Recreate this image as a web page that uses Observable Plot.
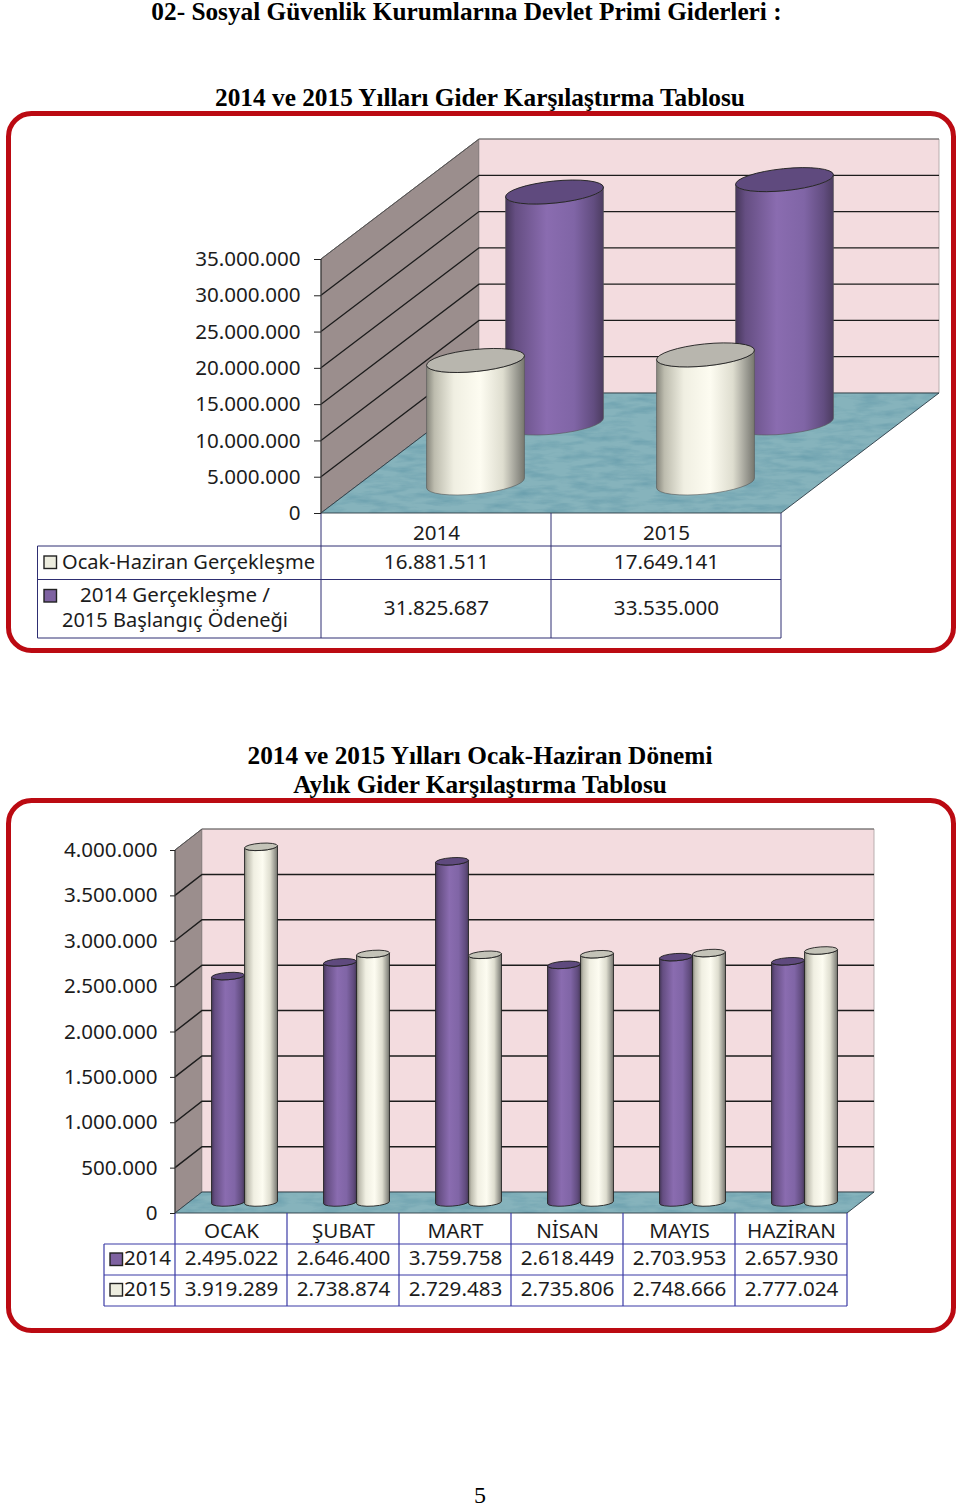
<!DOCTYPE html>
<html lang="tr">
<head>
<meta charset="utf-8">
<script src="https://cdn.jsdelivr.net/npm/d3@7"></script>
<script src="https://cdn.jsdelivr.net/npm/@observablehq/plot@0.6"></script>
<style>
html,body{margin:0;padding:0;background:#fff;width:960px;height:1507px;overflow:hidden}
.t{position:absolute;left:0;width:960px;text-align:center;font-family:"Liberation Serif",serif;font-weight:bold;color:#000;white-space:nowrap;font-size:25.3px;line-height:28px}
.c{position:absolute;left:0}
.c svg{display:block;overflow:visible}
</style>
</head>
<body>
<div class="t" style="top:-3px;padding-right:27px;box-sizing:border-box">02- Sosyal Güvenlik Kurumlarına Devlet Primi Giderleri :</div>
<div class="t" style="top:83px">2014 ve 2015 Yılları Gider Karşılaştırma Tablosu</div>
<div id="c1" class="c" style="top:105px"></div>
<div class="t" style="top:741px">2014 ve 2015 Yılları Ocak-Haziran Dönemi</div>
<div class="t" style="top:770px">Aylık Gider Karşılaştırma Tablosu</div>
<div id="c2" class="c" style="top:793px"></div>
<div class="t" style="top:1481px;font-size:24px;font-weight:normal">5</div>
<script>
// ---- data ----
const years = ["2014", "2015"];
const halfYearActual = [16881511, 17649141];
const annualBudget = [31825687, 33535000];
const annualTicks = [0, 5e6, 10e6, 15e6, 20e6, 25e6, 30e6, 35e6];

const months = ["OCAK", "ŞUBAT", "MART", "NİSAN", "MAYIS", "HAZİRAN"];
const monthly2014 = [2495022, 2646400, 3759758, 2618449, 2703953, 2657930];
const monthly2015 = [3919289, 2738874, 2729483, 2735806, 2748666, 2777024];
const monthlyTicks = [0, 5e5, 1e6, 1.5e6, 2e6, 2.5e6, 3e6, 3.5e6, 4e6];

// ---- styling ----
const FONT = '"Noto Sans", "DejaVu Sans", sans-serif';
const TEXT = "#1c1c1c";
const fmt = d3.formatLocale({decimal: ",", thousands: ".", grouping: [3], currency: ["", ""]}).format(",d");
const SVGNS = "http://www.w3.org/2000/svg";

function el(parent, name, attrs, text) {
  const n = document.createElementNS(SVGNS, name);
  for (const k in attrs) n.setAttribute(k, attrs[k]);
  if (text != null) n.textContent = text;
  if (parent) parent.appendChild(n);
  return n;
}

function defs(g) {
  const d = el(g, "defs", {});
  const grad = (id, stops) => {
    const lg = el(d, "linearGradient", {id, x1: 0, x2: 1, y1: 0, y2: 0});
    for (const [o, c] of stops) el(lg, "stop", {offset: o, "stop-color": c});
  };
  grad("gPurple", [[0, "#46375a"], [.1, "#654e82"], [.42, "#8a6cb0"], [.7, "#8065a6"], [.9, "#624d80"], [1, "#4c3c60"]]);
  grad("gCream", [[0, "#85857b"], [.08, "#bdbcae"], [.28, "#f0efe2"], [.55, "#fdfcf1"], [.78, "#deddcf"], [.94, "#92928a"], [1, "#77776d"]]);
  const f = el(d, "filter", {id: "water", x: 0, y: 0, width: 1, height: 1, "color-interpolation-filters": "sRGB"});
  el(f, "feTurbulence", {type: "fractalNoise", baseFrequency: ".035 .16", numOctaves: 3, seed: 4, result: "n"});
  el(f, "feColorMatrix", {in: "n", type: "matrix", values: "0 0 0 0 .40  0 0 0 0 .61  0 0 0 0 .67  1.6 0 0 0 -.62", result: "m"});
  el(f, "feComposite", {in: "m", in2: "SourceGraphic", operator: "in", result: "c"});
  const mg = el(f, "feMerge", {});
  el(mg, "feMergeNode", {in: "SourceGraphic"});
  el(mg, "feMergeNode", {in: "c"});
}

// Walls, floor and gridlines of the 3-D box, placed by the x and y scales
function box(cfg) {
  return (index, {x, y}) => {
    const g = el(null, "g", {});
    defs(g);
    const dom = x.domain();
    const xL = x(dom[0]), xR = x(dom[dom.length - 1]) + x.bandwidth();
    const [dx, dy] = cfg.depth;
    const y0 = y(0), yT = y(cfg.ticks[cfg.ticks.length - 1]);
    const poly = (pts, attrs) => el(g, "polygon", {points: pts.map(p => p.join(",")).join(" "), ...attrs});
    poly([[xL, y0], [xL + dx, y0 + dy], [xL + dx, yT + dy], [xL, yT]], {fill: "#9b8e8d", stroke: "#4a4444", "stroke-width": .8});
    poly([[xL + dx, y0 + dy], [xR + dx, y0 + dy], [xR + dx, yT + dy], [xL + dx, yT + dy]], {fill: "#f3dcdf", stroke: "#a8a0a0", "stroke-width": .8});
    poly([[xL, y0], [xR, y0], [xR + dx, y0 + dy], [xL + dx, y0 + dy]], {fill: "#86b3bc", filter: "url(#water)"});
    poly([[xL, y0], [xR, y0], [xR + dx, y0 + dy], [xL + dx, y0 + dy]], {fill: "none", stroke: "#2b3a44", "stroke-width": .9});
    for (const t of cfg.ticks.slice(1)) {
      const yy = y(t);
      const isTop = t === cfg.ticks[cfg.ticks.length - 1];
      el(g, "polyline", {
        points: `${xL},${yy} ${xL + dx},${yy + dy} ${xR + dx},${yy + dy}`,
        fill: "none", stroke: isTop ? "#555" : "#1c1c1c", "stroke-width": isTop ? .9 : cfg.gridWidth
      });
    }
    el(g, "line", {x1: xL, x2: xL, y1: yT, y2: y0, stroke: "#3a3a3a", "stroke-width": 1});
    return g;
  };
}

// Cylinders: base and height come from the scales
function cylinders(cfg, series) {
  return (index, {x, y}) => {
    const g = el(null, "g", {});
    const [dx, dy] = cfg.depth;
    const bw = x.bandwidth();
    const rx = bw * cfg.radius, ry = cfg.ry, a = cfg.tilt * Math.PI / 180;
    const cx0 = rx * Math.cos(a), sy0 = rx * Math.sin(a);
    for (const s of series) {
      x.domain().forEach((c, i) => {
        const cx = x(c) + bw / 2 + dx * s.depth + bw * s.shift;
        const yb = y(0) + dy * s.depth, yt = y(s.values[i]) + dy * s.depth;
        const d = `M${cx - cx0},${yt + sy0} L${cx - cx0},${yb + sy0} A${rx},${ry} ${-cfg.tilt} 0 0 ${cx + cx0},${yb - sy0} L${cx + cx0},${yt - sy0} A${rx},${ry} ${-cfg.tilt} 0 1 ${cx - cx0},${yt + sy0} Z`;
        el(g, "path", {d, fill: `url(#${s.grad})`, stroke: cfg.outline, "stroke-width": cfg.outlineWidth});
        el(g, "ellipse", {cx, cy: yt, rx, ry, transform: `rotate(${-cfg.tilt} ${cx} ${yt})`, fill: s.top, stroke: "#222", "stroke-width": .9});
      });
    }
    return g;
  };
}

// Data-table rules and legend keys below the box
function table(cfg) {
  return (index, {x, y}) => {
    const g = el(null, "g", {});
    const dom = x.domain();
    const xR = x(dom[dom.length - 1]) + x.bandwidth();
    const y0 = y(0);
    const s = {stroke: cfg.tableColor, "stroke-width": cfg.tableWidth};
    const [rHead, ...rows] = cfg.rows.map(r => y0 + r);
    const yB = rows[rows.length - 1];
    for (const r of [rHead, ...rows]) el(g, "line", {x1: cfg.legendLeft, x2: xR, y1: r, y2: r, ...s});
    el(g, "line", {x1: cfg.legendLeft, x2: cfg.legendLeft, y1: rHead, y2: yB, ...s});
    dom.forEach(c => el(g, "line", {x1: x(c), x2: x(c), y1: y0, y2: yB, ...s}));
    el(g, "line", {x1: xR, x2: xR, y1: y0, y2: yB, ...s});
    for (const k of cfg.keys) {
      el(g, "rect", {x: k.x, y: y0 + k.y, width: k.s, height: k.s, fill: k.fill, stroke: "#222", "stroke-width": 1.4});
    }
    for (const k of cfg.labels) {
      el(g, "text", {x: k.x, y: y0 + k.y, "text-anchor": k.anchor, "font-family": FONT, "font-size": cfg.fontSize, fill: TEXT, textLength: k.w, lengthAdjust: "spacingAndGlyphs"}, k.text);
    }
    return g;
  };
}

function frame(cfg) {
  return (index, {y}) => el(null, "rect", {
    x: 8.5, y: y(0) + cfg.frame[0], width: 945, height: cfg.frame[1] - cfg.frame[0], rx: 23,
    fill: "none", stroke: "#bb0a12", "stroke-width": 5
  });
}

function draw(cfg, cats, series, rowsData) {
  return Plot.plot({
    width: 960, height: cfg.height,
    marginLeft: cfg.margin.l, marginRight: cfg.margin.r, marginTop: cfg.margin.t, marginBottom: cfg.margin.b,
    style: {fontFamily: FONT, background: "transparent", overflow: "visible", color: TEXT},
    x: {type: "band", domain: cats, padding: 0},
    y: {domain: [0, cfg.ticks[cfg.ticks.length - 1]]},
    marks: [
      frame(cfg),
      box(cfg),
      cylinders(cfg, series),
      table(cfg),
      Plot.axisY({ticks: cfg.ticks, tickFormat: fmt, tickSize: cfg.tickSize, tickPadding: cfg.tickPadding, label: null, fontSize: cfg.fontSize, stroke: "#222"}),
      Plot.axisX({tickSize: 0, tickPadding: cfg.headPadding, label: null, fontSize: cfg.fontSize}),
      ...rowsData.map(r => Plot.text(cats.map((c, i) => ({c, v: fmt(r.values[i])})), {
        x: "c", text: "v", frameAnchor: "bottom", dy: r.dy, fontSize: cfg.fontSize, fill: TEXT
      }))
    ]
  });
}

const cfg1 = {
  height: 553, ticks: annualTicks, margin: {l: 321, r: 179, t: 154, b: 145},
  depth: [158, -120], radius: 49.2 / 230, ry: 11, tilt: 5.8, gridWidth: 1.3,
  outline: "#555", outlineWidth: .6,
  tickSize: 7, tickPadding: 14, headPadding: 12, fontSize: 20.6, tableWidth: 1, tableColor: "#2e2e72",
  frame: [-399.5, 137.5], legendLeft: 37.5, rows: [33, 66.5, 125],
  keys: [
    {x: 44, y: 43, s: 12.5, fill: "#ededdf"},
    {x: 44, y: 76.5, s: 12.5, fill: "#7e62a1"}
  ],
  labels: [
    {x: 62, y: 56, anchor: "start", w: 253, text: "Ocak-Haziran Gerçekleşme"},
    {x: 80, y: 89, anchor: "start", w: 190, text: "2014 Gerçekleşme /"},
    {x: 62, y: 114, anchor: "start", w: 226, text: "2015 Başlangıç Ödeneği"}
  ]
};
const cfg2 = {
  height: 545, ticks: monthlyTicks, margin: {l: 175, r: 113, t: 57, b: 125},
  depth: [27, -21], radius: 16.5 / 112, ry: 3.6, tilt: 4, gridWidth: 1.5,
  outline: "#222", outlineWidth: .9,
  tickSize: 5, tickPadding: 13, headPadding: 10, fontSize: 20.6, tableWidth: 1.2, tableColor: "#3b3ba6",
  frame: [-412.5, 117.5], legendLeft: 104, rows: [31, 62, 93],
  keys: [
    {x: 110, y: 40, s: 12.5, fill: "#7e62a1"},
    {x: 110, y: 70.5, s: 12.5, fill: "#ededdf"}
  ],
  labels: [
    {x: 124, y: 52, anchor: "start", w: 47, text: "2014"},
    {x: 124, y: 83, anchor: "start", w: 47, text: "2015"}
  ]
};

document.getElementById("c1").appendChild(draw(cfg1, years, [
  {values: annualBudget, depth: .75, shift: 0, grad: "gPurple", top: "#5f4a7e"},
  {values: halfYearActual, depth: .25, shift: 0, grad: "gCream", top: "#b8b6ae"}
], [
  {values: halfYearActual, dy: 55},
  {values: annualBudget, dy: 101}
]));
document.getElementById("c2").appendChild(draw(cfg2, months, [
  {values: monthly2014, depth: .5, shift: -16.5 / 112, grad: "gPurple", top: "#5f4a7e"},
  {values: monthly2015, depth: .5, shift: 16.5 / 112, grad: "gCream", top: "#c4c3b8"}
], [
  {values: monthly2014, dy: 51},
  {values: monthly2015, dy: 82}
]));
</script>
</body>
</html>
